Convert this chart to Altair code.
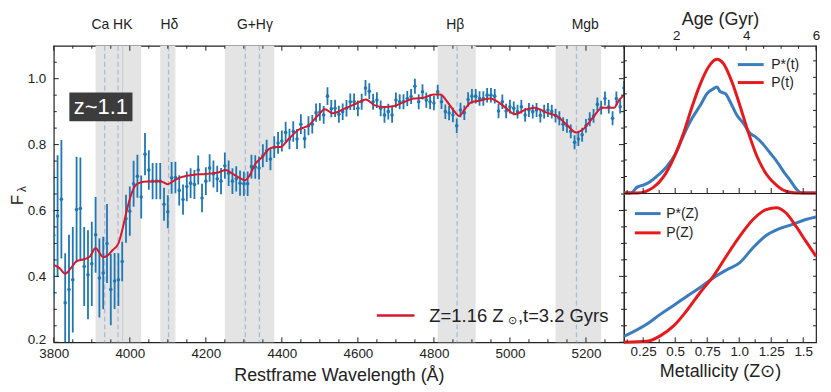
import altair as alt
import pandas as pd

FONT = "Liberation Sans"
INK = "#222222"
BLUE_PT = "#1f77b4"
RED_FIT = "#d6192d"
BLUE_P = "#3a7dbf"
RED_P = "#e8191d"
SHADE = "#e4e4e4"
DASH = "#aabcd4"

# ---------------- spectrum data (every 10 A) ----------------
wave = [3800 + 10 * i for i in range(151)]
flux = [
    0.525, 0.583, 0.634, 0.320, 0.360, 0.390, 0.603, 0.606, 0.430, 0.405,
    0.438, 0.526, 0.395, 0.410, 0.500, 0.360, 0.386, 0.390, 0.445, 0.575,
    0.598, 0.681, 0.704, 0.641, 0.771, 0.723, 0.689, 0.689, 0.689, 0.619,
    0.596, 0.699, 0.700, 0.661, 0.633, 0.673, 0.683, 0.679, 0.723, 0.638,
    0.689, 0.729, 0.711, 0.696, 0.689, 0.736, 0.713, 0.689, 0.696, 0.683,
    0.681, 0.681, 0.733, 0.732, 0.729, 0.766, 0.781, 0.756, 0.792, 0.805,
    0.811, 0.837, 0.817, 0.840, 0.817, 0.862, 0.818, 0.857, 0.862, 0.897,
    0.899, 0.890, 0.947, 0.909, 0.910, 0.892, 0.900, 0.910, 0.930, 0.930,
    0.910, 0.930, 0.972, 0.962, 0.930, 0.935, 0.910, 0.890, 0.900, 0.890,
    0.935, 0.930, 0.930, 0.940, 0.946, 0.977, 0.930, 0.960, 0.935, 0.930,
    0.926, 0.960, 0.930, 0.900, 0.896, 0.890, 0.857, 0.905, 0.897, 0.937,
    0.947, 0.947, 0.940, 0.940, 0.950, 0.950, 0.947, 0.902, 0.930, 0.902,
    0.915, 0.910, 0.900, 0.915, 0.890, 0.905, 0.900, 0.905, 0.888, 0.900,
    0.905, 0.900, 0.888, 0.880, 0.862, 0.857, 0.840, 0.807, 0.817, 0.830,
    0.857, 0.877, 0.887, 0.922, 0.912, 0.940, 0.915, 0.880, 0.940, 0.915,
    0.972,
]
ferr = [
    0.195, 0.185, 0.180, 0.150, 0.166, 0.160, 0.160, 0.155, 0.120, 0.135,
    0.128, 0.115, 0.120, 0.110, 0.120, 0.108, 0.085, 0.080, 0.060, 0.073,
    0.075, 0.070, 0.065, 0.065, 0.064, 0.060, 0.055, 0.055, 0.055, 0.050,
    0.050, 0.048, 0.048, 0.046, 0.046, 0.045, 0.045, 0.044, 0.044, 0.043,
    0.042, 0.042, 0.041, 0.040, 0.040, 0.040, 0.039, 0.039, 0.038, 0.038,
    0.037, 0.037, 0.036, 0.036, 0.035, 0.035, 0.034, 0.034, 0.033, 0.033,
    0.032, 0.032, 0.031, 0.031, 0.030, 0.030, 0.029, 0.029, 0.028, 0.028,
    0.027, 0.027, 0.027, 0.026, 0.026, 0.026, 0.025, 0.025, 0.025, 0.025,
    0.024, 0.024, 0.024, 0.024, 0.024, 0.024, 0.024, 0.024, 0.024, 0.024,
    0.023, 0.023, 0.023, 0.023, 0.023, 0.023, 0.023, 0.023, 0.023, 0.023,
    0.022, 0.022, 0.022, 0.022, 0.022, 0.022, 0.022, 0.022, 0.022, 0.022,
    0.022, 0.022, 0.022, 0.022, 0.022, 0.022, 0.022, 0.022, 0.022, 0.022,
    0.021, 0.021, 0.021, 0.021, 0.021, 0.021, 0.021, 0.021, 0.021, 0.021,
    0.021, 0.021, 0.021, 0.021, 0.021, 0.021, 0.021, 0.021, 0.021, 0.021,
    0.021, 0.021, 0.021, 0.021, 0.021, 0.021, 0.021, 0.021, 0.021, 0.021,
    0.021,
]
assert len(flux) == len(wave) == len(ferr)

# best-fit model (red line)
model_wave = [3800, 3815, 3830, 3845, 3860, 3880, 3895, 3910, 3920, 3930,
              3940, 3955, 3970, 3980, 3990, 4000, 4015, 4030, 4050, 4080,
              4100, 4115, 4130, 4165, 4200, 4235, 4252, 4270, 4287, 4303,
              4315, 4330, 4348, 4365, 4380, 4397, 4418, 4444, 4470, 4496,
              4513, 4534, 4565, 4600, 4621, 4643, 4669, 4695, 4721, 4747,
              4773, 4799, 4817, 4835, 4853, 4866, 4883, 4896, 4922, 4948,
              4965, 4991, 5013, 5043, 5065, 5096, 5122, 5148, 5174, 5191,
              5217, 5243, 5261, 5274, 5287, 5300]
model_flux = [0.435, 0.425, 0.408, 0.425, 0.446, 0.452, 0.460, 0.486, 0.472, 0.458,
              0.462, 0.480, 0.500, 0.540, 0.590, 0.635, 0.676, 0.686, 0.688, 0.689,
              0.680, 0.690, 0.699, 0.708, 0.711, 0.716, 0.723, 0.712, 0.700, 0.692,
              0.706, 0.741, 0.762, 0.786, 0.792, 0.793, 0.817, 0.845, 0.858, 0.890,
              0.907, 0.895, 0.909, 0.927, 0.937, 0.920, 0.914, 0.917, 0.929, 0.940,
              0.942, 0.952, 0.952, 0.930, 0.902, 0.887, 0.910, 0.927, 0.934, 0.940,
              0.932, 0.910, 0.892, 0.907, 0.912, 0.897, 0.887, 0.862, 0.837, 0.845,
              0.880, 0.912, 0.912, 0.912, 0.935, 0.950]
assert len(model_wave) == len(model_flux)

band_lo = [3910, 4080, 4250, 4810, 5120]
band_hi = [4030, 4120, 4380, 4910, 5240]
line_wave = [3934, 3969, 4102, 4304, 4341, 4861, 5175]
edge_wave = [3981]
label_text = ["Ca HK", "Hδ", "G+Hγ", "Hβ", "Mgb"]
label_wave = [3953, 4104, 4329, 4856, 5198]

# ---------------- right panels ----------------
age_star = [0.5, 0.69, 0.88, 1.07, 1.26, 1.49, 1.73, 1.97, 2.21, 2.45, 2.69, 2.88, 3.07,
            3.16, 3.26, 3.40, 3.54, 3.73, 3.92, 4.11, 4.26, 4.50, 4.69, 4.88, 5.07,
            5.26, 5.45, 5.59, 6.0]
pstar_t = [0.0, 0.0, 0.040, 0.056, 0.079, 0.124, 0.180, 0.263, 0.394, 0.507, 0.597,
           0.676, 0.709, 0.720, 0.687, 0.676, 0.620, 0.530, 0.473, 0.405, 0.383,
           0.327, 0.270, 0.214, 0.146, 0.086, 0.023, 0.0, 0.0]
age_p = [0.5, 0.88, 1.35, 1.64, 1.92, 2.21, 2.45, 2.69, 2.92, 3.16, 3.35, 3.59,
         3.83, 4.07, 4.31, 4.59, 4.88, 5.16, 5.45, 6.0]
p_t = [0.0, 0.0, 0.040, 0.113, 0.236, 0.410, 0.586, 0.743, 0.856, 0.908, 0.878,
       0.755, 0.586, 0.405, 0.248, 0.124, 0.050, 0.010, 0.0, 0.0]
z_star = [0.1, 0.28, 0.386, 0.49, 0.59, 0.695, 0.8, 0.9, 1.005, 1.108, 1.21, 1.31,
          1.41, 1.52, 1.6]
pstar_z = [0.040, 0.123, 0.190, 0.250, 0.309, 0.369, 0.436, 0.488, 0.537, 0.638,
           0.720, 0.765, 0.794, 0.828, 0.845]
z_p = [0.1, 0.28, 0.386, 0.49, 0.59, 0.695, 0.8, 0.9, 1.005, 1.108, 1.21, 1.29,
       1.366, 1.443, 1.52, 1.6]
p_z = [0.0, 0.007, 0.045, 0.112, 0.213, 0.336, 0.448, 0.582, 0.716, 0.828, 0.895,
       0.908, 0.872, 0.783, 0.682, 0.580]

# tick positions
x_major = [3800, 4000, 4200, 4400, 4600, 4800, 5000, 5200]
x_minor = [v for v in range(3850, 5300, 50) if v % 200 != 0]
y_major = [0.2, 0.4, 0.6, 0.8, 1.0]
y_minor = [round(0.2 + 0.05 * k, 2) for k in range(1, 18) if k % 4 != 0]
age_major = [2, 4, 6]
age_minor = [0.5, 1, 1.5, 2.5, 3, 3.5, 4.5, 5, 5.5]
z_major = [0.25, 0.5, 0.75, 1.0, 1.25, 1.5]
z_minor = [0.125, 0.375, 0.625, 0.875, 1.125, 1.375]

W, H = 573, 298
RW = 193
TOPH = 148

# ---------------- main panel ----------------
xs = alt.Scale(domain=[3800, 5300], nice=False, zero=False)
ys = alt.Scale(domain=[0.2, 1.1], nice=False, zero=False)
ax_x = alt.Axis(values=x_major, format="d", ticks=False, domain=False, grid=False,
                labelFont=FONT, labelFontSize=13.5, labelColor=INK, labelPadding=4,
                labelFlush=False, labelOverlap=False,
                title="Restframe Wavelength (Å)", titleFont=FONT, titleFontSize=18,
                titleFontWeight="normal", titleColor=INK, titlePadding=7)
ax_y = alt.Axis(values=y_major, format=".1f", ticks=False, domain=False, grid=False,
                labelFont=FONT, labelFontSize=13.5, labelColor=INK, labelPadding=8,
                labelOffset={"condition": {"test": "datum.value < 0.3", "value": -3}, "value": 0},
                labelFlush=False, labelOverlap=False, title=None)


def X(f):
    return alt.X(f"{f}:Q", scale=xs, axis=ax_x)


def Y(f):
    return alt.Y(f"{f}:Q", scale=ys, axis=ax_y)


spec = pd.DataFrame({"wave": wave, "flux": flux,
                     "lo": [f - e for f, e in zip(flux, ferr)],
                     "hi": [f + e for f, e in zip(flux, ferr)]})
model_df = pd.DataFrame({"w": model_wave, "f": model_flux})

layers = []
layers.append(alt.Chart(pd.DataFrame({"lo": band_lo, "hi": band_hi})).mark_rect(color=SHADE).encode(
    x=X("lo"), x2="hi", y=alt.value(0), y2=alt.value(H)))
layers.append(alt.Chart(pd.DataFrame({"w": edge_wave})).mark_rule(color="#c6c6c6", strokeWidth=0.8).encode(
    x=X("w"), y=alt.value(0), y2=alt.value(H)))
layers.append(alt.Chart(pd.DataFrame({"w": line_wave})).mark_rule(
    color=DASH, strokeDash=[5, 3], strokeWidth=1.3).encode(x=X("w"), y=alt.value(0), y2=alt.value(H)))
layers.append(alt.Chart(spec).mark_rule(color=BLUE_PT, strokeWidth=1.8, clip=True).encode(
    x=X("wave"), y=Y("lo"), y2="hi"))
layers.append(alt.Chart(spec).mark_circle(color=BLUE_PT, size=13, opacity=1, clip=True).encode(
    x=X("wave"), y=Y("flux")))
layers.append(alt.Chart(model_df).mark_line(color=RED_FIT, strokeWidth=2, interpolate="monotone",
                                            clip=True).encode(x=X("w"), y=Y("f")))

# legend of main panel
layers.append(alt.Chart(pd.DataFrame({"x0": [4650], "x1": [4749], "y": [0.281]})).mark_rule(
    color=RED_FIT, strokeWidth=2.5).encode(x=X("x0"), x2="x1", y=Y("y")))
leg = pd.DataFrame({"x": [4788], "y": [0.281]})
layers.append(alt.Chart(leg).mark_text(align="left", baseline="middle", fontSize=18.5, font=FONT,
                                       color=INK, text="Z=1.16 Z").encode(x=X("x"), y=Y("y")))
layers.append(alt.Chart(leg).mark_text(align="left", baseline="middle", fontSize=11, font=FONT,
                                       color=INK, dx=79, dy=5, text="⊙").encode(x=X("x"), y=Y("y")))
layers.append(alt.Chart(leg).mark_text(align="left", baseline="middle", fontSize=18.5, font=FONT,
                                       color=INK, dx=89, text=",t=3.2 Gyrs").encode(x=X("x"), y=Y("y")))

# z~1.1 box
layers.append(alt.Chart(pd.DataFrame({"x0": [3841], "x1": [4007], "y0": [0.871], "y1": [0.958]})).mark_rect(
    color="#3c3c3c").encode(x=X("x0"), x2="x1", y=Y("y0"), y2="y1"))
layers.append(alt.Chart(pd.DataFrame({"x": [3924], "y": [0.915]})).mark_text(
    fontSize=22, font=FONT, color="white", align="center", baseline="middle", text="z~1.1").encode(
    x=X("x"), y=Y("y")))

# feature labels above panel
layers.append(alt.Chart(pd.DataFrame({"x": label_wave, "t": label_text})).mark_text(
    fontSize=14, font=FONT, color=INK, align="center", baseline="middle").encode(
    x=X("x"), y=alt.value(-21), text="t:N"))


def vr(vals, scale, axis, y0, y1):
    return alt.Chart(pd.DataFrame({"v": vals})).mark_rule(color=INK, strokeWidth=1).encode(
        x=alt.X("v:Q", scale=scale, axis=axis), y=alt.value(y0), y2=alt.value(y1))


def hr(vals, scale, axis, x0, x1):
    return alt.Chart(pd.DataFrame({"v": vals})).mark_rule(color=INK, strokeWidth=1).encode(
        y=alt.Y("v:Q", scale=scale, axis=axis), x=alt.value(x0), x2=alt.value(x1))


layers += [vr(x_major, xs, ax_x, H, H - 5), vr(x_minor, xs, ax_x, H, H - 3),
           vr(x_major, xs, ax_x, 0, 5), vr(x_minor, xs, ax_x, 0, 3),
           hr(y_major, ys, ax_y, 0, 5), hr(y_minor, ys, ax_y, 0, 3),
           hr(y_major, ys, ax_y, W, W - 5), hr(y_minor, ys, ax_y, W, W - 3)]

# y title F_lambda
layers.append(alt.Chart(pd.DataFrame({"t": ["F"]})).mark_text(
    angle=270, fontSize=17, font=FONT, color=INK, align="center", baseline="middle").encode(
    x=alt.value(-36), y=alt.value(155), text="t:N"))
layers.append(alt.Chart(pd.DataFrame({"t": ["λ"]})).mark_text(
    angle=270, fontSize=12, font=FONT, color=INK, align="center", baseline="middle").encode(
    x=alt.value(-32), y=alt.value(144), text="t:N"))

main = alt.layer(*layers).properties(width=W, height=H)

# ---------------- right panels ----------------
sx_age = alt.Scale(domain=[0.5, 6], nice=False, zero=False)
sx_z = alt.Scale(domain=[0.1, 1.6], nice=False, zero=False)
sy_top = alt.Scale(domain=[0, 1], range=[TOPH, 0], nice=False, zero=False)
sy_bot = alt.Scale(domain=[0, 1], range=[H, TOPH + 1], nice=False, zero=False)

ax_age = alt.Axis(orient="top", values=age_major, format="d", ticks=False, domain=False, grid=False,
                  labelFont=FONT, labelFontSize=13.5, labelColor=INK, labelPadding=3,
                  labelFlush=False, labelOverlap=False,
                  title="Age (Gyr)", titleFont=FONT, titleFontSize=18, titleFontWeight="normal",
                  titleColor=INK, titlePadding=0.5)
ax_z = alt.Axis(orient="bottom", values=z_major, ticks=False, domain=False, grid=False,
                labelExpr="datum.value == 1 ? '1.0' : '' + datum.value",
                labelFont=FONT, labelFontSize=13.5, labelColor=INK, labelPadding=2,
                labelFlush=False, labelOverlap=False,
                title="Metallicity (Z⊙)", titleFont=FONT, titleFontSize=18, titleFontWeight="normal",
                titleColor=INK, titlePadding=5)

r = []
r.append(alt.Chart(pd.DataFrame({"a": age_star, "p": pstar_t})).mark_line(
    color=BLUE_P, strokeWidth=3, interpolate="monotone").encode(
    x=alt.X("a:Q", scale=sx_age, axis=ax_age), y=alt.Y("p:Q", scale=sy_top, axis=None)))
r.append(alt.Chart(pd.DataFrame({"a": age_p, "p": p_t})).mark_line(
    color=RED_P, strokeWidth=3, interpolate="monotone").encode(
    x=alt.X("a:Q", scale=sx_age, axis=None), y=alt.Y("p:Q", scale=sy_top, axis=None)))
r.append(alt.Chart(pd.DataFrame({"z": z_star, "p": pstar_z})).mark_line(
    color=BLUE_P, strokeWidth=3, interpolate="monotone").encode(
    x=alt.X("z:Q", scale=sx_z, axis=ax_z), y=alt.Y("p:Q", scale=sy_bot, axis=None)))
r.append(alt.Chart(pd.DataFrame({"z": z_p, "p": p_z})).mark_line(
    color=RED_P, strokeWidth=3, interpolate="monotone").encode(
    x=alt.X("z:Q", scale=sx_z, axis=None), y=alt.Y("p:Q", scale=sy_bot, axis=None)))

# legends
tl = pd.DataFrame({"x0": [3.76, 3.76], "x1": [4.5, 4.5], "y": [0.872, 0.75],
                   "c": [BLUE_P, RED_P], "t": ["P*(t)", "P(t)"], "xt": [4.72, 4.72]})
for i in range(2):
    row = tl.iloc[[i]]
    r.append(alt.Chart(row).mark_rule(color=row["c"].iloc[0], strokeWidth=3).encode(
        x=alt.X("x0:Q", scale=sx_age, axis=None), x2="x1",
        y=alt.Y("y:Q", scale=sy_top, axis=None)))
    r.append(alt.Chart(row).mark_text(align="left", baseline="middle", fontSize=14, font=FONT,
                                      color=INK).encode(
        x=alt.X("xt:Q", scale=sx_age, axis=None), y=alt.Y("y:Q", scale=sy_top, axis=None),
        text="t:N"))
bl = pd.DataFrame({"x0": [0.185, 0.185], "x1": [0.386, 0.386], "y": [0.868, 0.738],
                   "c": [BLUE_P, RED_P], "t": ["P*(Z)", "P(Z)"], "xt": [0.43, 0.43]})
for i in range(2):
    row = bl.iloc[[i]]
    r.append(alt.Chart(row).mark_rule(color=row["c"].iloc[0], strokeWidth=3).encode(
        x=alt.X("x0:Q", scale=sx_z, axis=None), x2="x1",
        y=alt.Y("y:Q", scale=sy_bot, axis=None)))
    r.append(alt.Chart(row).mark_text(align="left", baseline="middle", fontSize=14, font=FONT,
                                      color=INK).encode(
        x=alt.X("xt:Q", scale=sx_z, axis=None), y=alt.Y("y:Q", scale=sy_bot, axis=None),
        text="t:N"))

# ticks of the right panels
top_yt = [k * 16.6 / TOPH for k in range(1, 9)]
bot_yt = [k * 16.6 / (H - TOPH - 1) for k in range(1, 9)]
r += [vr(age_major, sx_age, None, 0, 5), vr(age_minor, sx_age, None, 0, 3),
      vr(z_major, sx_z, None, H, H - 5), vr(z_minor, sx_z, None, H, H - 3),
      vr(z_major, sx_z, None, TOPH, TOPH - 5), vr(z_minor, sx_z, None, TOPH, TOPH - 3),
      hr(top_yt, sy_top, None, 0, 3), hr(bot_yt, sy_bot, None, 0, 3),
      hr(top_yt, sy_top, None, RW, RW - 3), hr(bot_yt, sy_bot, None, RW, RW - 3)]
r.append(alt.Chart(pd.DataFrame({"a": [0]})).mark_rule(color=INK, strokeWidth=1.2).encode(
    x=alt.value(0), x2=alt.value(RW), y=alt.value(TOPH + 0.5)))

right = alt.layer(*r).properties(width=RW, height=H).resolve_scale(x="independent", y="independent")

chart = (alt.hconcat(main, right, spacing=0, bounds="flush")
         .properties(padding=0)
         .configure(font=FONT)
         .configure_view(stroke=INK, strokeWidth=1.2))

chart.save("out.html", embed_options={"renderer": "svg", "actions": False})
